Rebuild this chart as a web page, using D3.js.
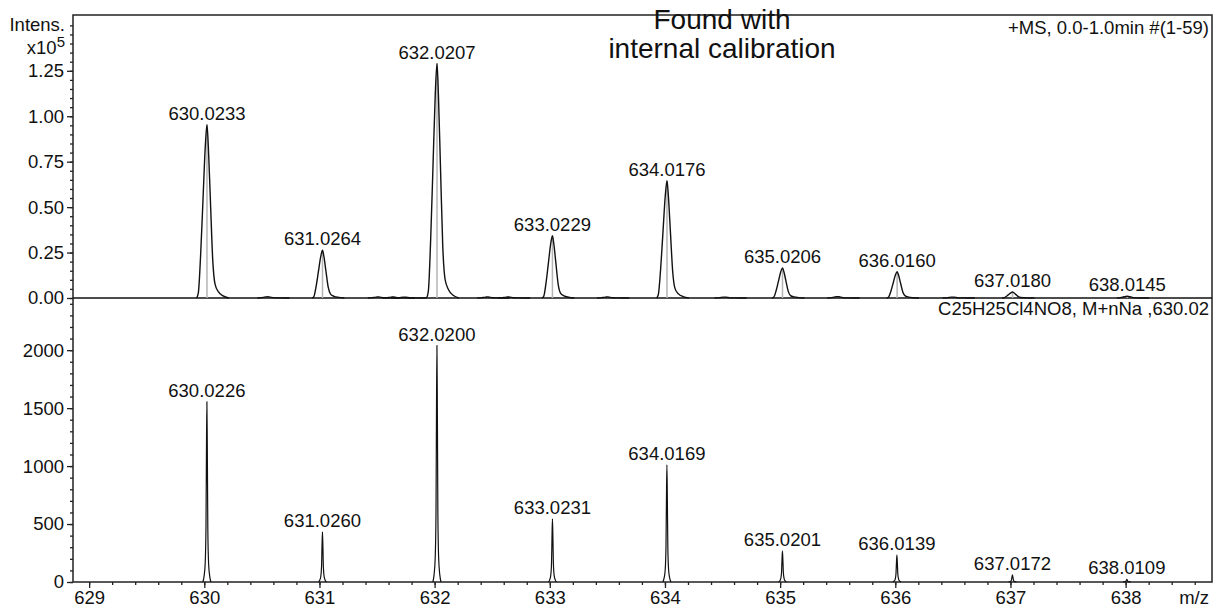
<!DOCTYPE html>
<html>
<head>
<meta charset="utf-8">
<script src="https://cdn.jsdelivr.net/npm/d3@7"></script>
<style>
  body { margin: 0; background: #fff; }
  text { font-family: "Liberation Sans", Arial, sans-serif; fill: #111; }
</style>
</head>
<body>
<svg id="chart"></svg>
<script>
// measured spectrum (top panel), intensities in units of 10^5
const foundMz = [630.0233, 631.0264, 632.0207, 633.0229, 634.0176, 635.0206, 636.0160, 637.0180, 638.0145];
const foundIntens = [0.953, 0.263, 1.29, 0.343, 0.645, 0.166, 0.145, 0.033, 0.010];
// small baseline blips in the measured trace
const noiseMz = [630.55, 631.51, 631.64, 631.74, 632.46, 632.64, 633.50, 634.52, 635.50, 636.50];
const noiseIntens = [0.007, 0.006, 0.006, 0.005, 0.006, 0.006, 0.006, 0.005, 0.008, 0.005];
// simulated isotope pattern (bottom panel)
const simMz = [630.0226, 631.0260, 632.0200, 633.0231, 634.0169, 635.0201, 636.0139, 637.0172, 638.0109];
const simIntens = [1555, 432, 2040, 545, 1010, 268, 231, 62, 22];
// peak profiles: [m/z offset, fraction of apex]
const foundShape = [[-0.09, 0], [-0.075, 0.03], [-0.055, 0.25], [-0.035, 0.56], [-0.015, 0.87], [0, 1],
                    [0.012, 0.87], [0.03, 0.56], [0.05, 0.22], [0.07, 0.08], [0.1, 0.035], [0.14, 0.012], [0.19, 0]];
const simShape = [[-0.035, 0], [-0.025, 0.03], [-0.015, 0.1], [-0.008, 0.3], [-0.004, 0.7], [0, 1],
                  [0.004, 0.7], [0.008, 0.3], [0.015, 0.1], [0.025, 0.03], [0.035, 0]];
const xTicks = [629, 630, 631, 632, 633, 634, 635, 636, 637, 638];
const topTicks = [0, 0.25, 0.5, 0.75, 1.0, 1.25];
const bottomTicks = [0, 500, 1000, 1500, 2000];

const config = { width: 1214, height: 610, left: 73, right: 1212, top: 15, mid: 298, bottom: 582, fontSize: 18.5 };

const svg = d3.select('#chart')
    .attr('width', config.width)
    .attr('height', config.height);

const x = d3.scaleLinear().domain([628.86, 638.75]).range([config.left, config.right]);
const yTop = d3.scaleLinear().domain([0, 1.557]).range([config.mid, config.top]);
const yBot = d3.scaleLinear().domain([0, 2450]).range([config.bottom, config.mid]);

// axes
const axisStyle = g => {
    g.select('.domain').remove();
    g.selectAll('line').attr('stroke', '#222').attr('stroke-width', 1.3);
    g.selectAll('text').attr('font-size', config.fontSize).attr('fill', '#111')
        .attr('font-family', '"Liberation Sans", Arial, sans-serif');
};

svg.append('g').attr('transform', `translate(${config.left},0)`)
    .call(d3.axisLeft(yTop).tickValues(d3.range(0, 31).map(i => i * 0.05)).tickSize(3).tickFormat(''))
    .call(axisStyle);
svg.append('g').attr('transform', `translate(${config.left},0)`)
    .call(d3.axisLeft(yTop).tickValues(topTicks).tickSize(6).tickPadding(3).tickFormat(d3.format('.2f')))
    .call(axisStyle);

svg.append('g').attr('transform', `translate(${config.left},0)`)
    .call(d3.axisLeft(yBot).tickValues(d3.range(0, 25).map(i => i * 100)).tickSize(3).tickFormat(''))
    .call(axisStyle);
svg.append('g').attr('transform', `translate(${config.left},0)`)
    .call(d3.axisLeft(yBot).tickValues(bottomTicks).tickSize(6).tickPadding(3).tickFormat(d3.format('d')))
    .call(axisStyle);

svg.append('g').attr('transform', `translate(0,${config.bottom})`)
    .call(d3.axisBottom(x).tickValues(d3.range(0, 49).map(i => 629 + i * 0.2)).tickSize(3).tickFormat(''))
    .call(axisStyle);
svg.append('g').attr('transform', `translate(0,${config.bottom})`)
    .call(d3.axisBottom(x).tickValues(xTicks).tickSize(6).tickPadding(3).tickFormat(d3.format('d')))
    .call(axisStyle);

// frame
svg.append('rect')
    .attr('x', config.left).attr('y', config.top)
    .attr('width', config.right - config.left).attr('height', config.bottom - config.top)
    .attr('fill', 'none').attr('stroke', '#222').attr('stroke-width', 1.5);
svg.append('line')
    .attr('x1', config.left).attr('x2', config.right).attr('y1', config.mid).attr('y2', config.mid)
    .attr('stroke', '#111').attr('stroke-width', 1.5);

// top panel: centroid sticks then profiles
const topG = svg.append('g');
topG.selectAll('.stick')
    .data(foundMz)
    .enter()
  .append('line')
    .attr('class', 'stick')
    .attr('x1', d => x(d)).attr('x2', d => x(d))
    .attr('y1', yTop(0))
    .attr('y2', (d, i) => yTop(foundIntens[i]))
    .attr('stroke', '#b4b4b4').attr('stroke-width', 1.5);

const topLine = (mz, h) => d3.line()
    .x(d => x(mz + d[0]))
    .y(d => yTop(h * d[1]))
    .curve(d3.curveMonotoneX)(foundShape);

topG.selectAll('.noise')
    .data(noiseMz)
    .enter()
  .append('path')
    .attr('class', 'noise')
    .attr('d', (d, i) => topLine(d, noiseIntens[i]))
    .attr('fill', 'none').attr('stroke', '#111').attr('stroke-width', 1.3);

topG.selectAll('.peak')
    .data(foundMz)
    .enter()
  .append('path')
    .attr('class', 'peak')
    .attr('d', (d, i) => topLine(d, foundIntens[i]))
    .attr('fill', 'none').attr('stroke', '#111').attr('stroke-width', 1.4);

topG.selectAll('.label')
    .data(foundMz)
    .enter()
  .append('text')
    .attr('class', 'label')
    .attr('x', d => x(d))
    .attr('y', (d, i) => yTop(foundIntens[i]) - 5)
    .attr('text-anchor', 'middle')
    .attr('font-size', config.fontSize)
    .text(d => d.toFixed(4));

// bottom panel
const botG = svg.append('g');
const botLine = (mz, h) => d3.line()
    .x(d => x(mz + d[0]))
    .y(d => yBot(h * d[1]))
    .curve(d3.curveMonotoneX)(simShape);

botG.selectAll('.peak')
    .data(simMz)
    .enter()
  .append('path')
    .attr('class', 'peak')
    .attr('d', (d, i) => botLine(d, simIntens[i]))
    .attr('fill', 'none').attr('stroke', '#111').attr('stroke-width', 1.2);

botG.selectAll('.label')
    .data(simMz)
    .enter()
  .append('text')
    .attr('class', 'label')
    .attr('x', d => x(d))
    .attr('y', (d, i) => yBot(simIntens[i]) - 5)
    .attr('text-anchor', 'middle')
    .attr('font-size', config.fontSize)
    .text(d => d.toFixed(4));

// annotations
svg.append('text').attr('x', 65).attr('y', 31).attr('text-anchor', 'end')
    .attr('font-size', config.fontSize).text('Intens.');
const sci = svg.append('text').attr('x', 65).attr('y', 54).attr('text-anchor', 'end').attr('font-size', config.fontSize);
sci.append('tspan').text('x10');
sci.append('tspan').attr('dy', -7).attr('font-size', 15).text('5');

svg.append('text').attr('x', 722).attr('y', 29).attr('text-anchor', 'middle')
    .attr('font-size', 28).text('Found with');
svg.append('text').attr('x', 722).attr('y', 58).attr('text-anchor', 'middle')
    .attr('font-size', 28).text('internal calibration');

svg.append('text').attr('x', 1209).attr('y', 34).attr('text-anchor', 'end')
    .attr('font-size', config.fontSize).text('+MS, 0.0-1.0min #(1-59)');
svg.append('text').attr('x', 1209).attr('y', 315).attr('text-anchor', 'end')
    .attr('font-size', config.fontSize).text('C25H25Cl4NO8, M+nNa ,630.02');
svg.append('text').attr('x', 1209).attr('y', 604).attr('text-anchor', 'end')
    .attr('font-size', config.fontSize).text('m/z');
</script>
</body>
</html>
